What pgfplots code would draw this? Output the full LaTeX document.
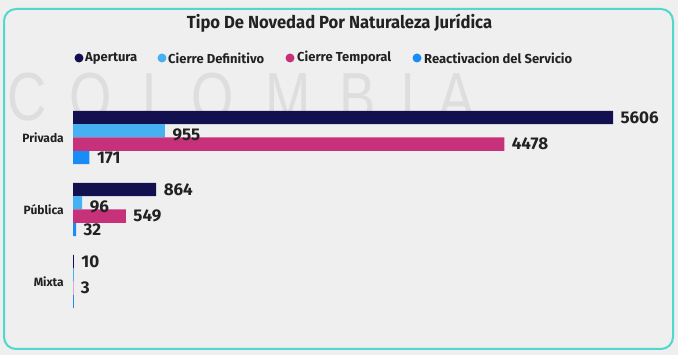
\documentclass[border=0pt]{standalone}
\usepackage{pgfplots}
\pgfplotsset{compat=1.18}
\usepackage{fontspec}
\setmainfont{Fira Sans}
\newfontfamily\wmfont{Liberation Sans}
\definecolor{apert}{HTML}{12104F}
\definecolor{cdef}{HTML}{45B0F2}
\definecolor{ctemp}{HTML}{C7317A}
\definecolor{react}{HTML}{1A8CF5}
\definecolor{bord}{HTML}{4FD8CC}
\definecolor{bg}{HTML}{EFEFEF}
\definecolor{wm}{HTML}{DEDEDF}
\definecolor{txt}{HTML}{222222}
\begin{document}
\begin{tikzpicture}[x=1pt,y=1pt]
\path[use as bounding box, fill=bg] (0,0) rectangle (678,355);
% watermark
\foreach \l/\xx in {C/27, O/91, L/158, O/213, M/288, B/358, I/408, A/457}{
  \node[text=wm, font=\wmfont\fontsize{68}{68}\selectfont, xscale=0.8] at (\xx,258) {\l};
}
\draw[bord, line width=2pt, rounded corners=12pt] (4,6) rectangle (673,346);
% title
\node[font=\bfseries\fontsize{17.5}{17.5}\selectfont, text=txt, xscale=0.95] at (339.5,332) {Tipo De Novedad Por Naturaleza Jurídica};
% legend
\fill[apert] (79,297) circle (4.5);
\node[anchor=west, inner sep=0pt, font=\bfseries\fontsize{13}{13}\selectfont, text=txt] at (85,297) {Apertura};
\fill[cdef] (162,297) circle (4.5);
\node[anchor=west, inner sep=0pt, font=\bfseries\fontsize{13}{13}\selectfont, text=txt] at (168,297) {Cierre Definitivo};
\fill[ctemp] (290,297) circle (4.5);
\node[anchor=west, inner sep=0pt, font=\bfseries\fontsize{13}{13}\selectfont, text=txt] at (297,297) {Cierre Temporal};
\fill[react] (417,297) circle (4.5);
\node[anchor=west, inner sep=0pt, font=\bfseries\fontsize{13}{13}\selectfont, text=txt] at (424,297) {Reactivacion del Servicio};
\begin{axis}[
  at={(73pt,260.7pt)}, anchor=north west,
  scale only axis, width=540pt, height=230.4pt,
  xmin=0, xmax=5606, ymin=-0.6, ymax=2.6,
  hide x axis,
  axis y line*=left, y axis line style={draw=none},
  major tick length=0pt,
  ytick={0,1,2}, yticklabels={Mixta,Pública,Privada},
  yticklabel style={font=\bfseries\fontsize{12}{12}\selectfont, text=txt, inner sep=0pt, xshift=-9pt},
  clip=false,
  every axis plot/.append style={xbar, bar width=13.3pt, draw=none},
  nodes near coords, point meta=explicit symbolic,
  nodes near coords style={anchor=west, font=\bfseries\fontsize{17}{17}\selectfont, text=txt, xshift=4pt},
]
\addplot[fill=apert, bar shift=19.95pt, every node near coord/.append style={yshift=19.95pt}] coordinates {(5606,2)[5606] (864,1)[864] (10,0)[10]};
\addplot[fill=cdef, bar shift=6.65pt, every node near coord/.append style={yshift=3pt}] coordinates {(955,2)[955] (96,1)[96] (10,0)[]};
\addplot[fill=ctemp, bar shift=-6.65pt, every node near coord/.append style={yshift=-6.65pt}] coordinates {(4478,2)[4478] (549,1)[549] (3,0)[3]};
\addplot[fill=react, bar shift=-19.95pt, every node near coord/.append style={yshift=-19.95pt}] coordinates {(171,2)[171] (32,1)[32] (10,0)[]};
\end{axis}
\end{tikzpicture}
\end{document}
